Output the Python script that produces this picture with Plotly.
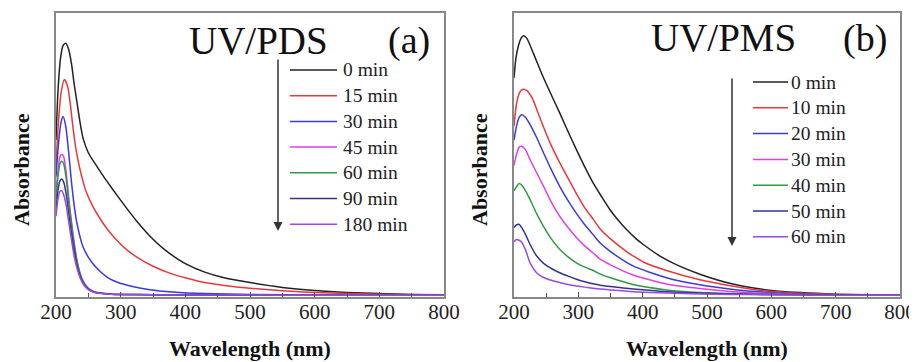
import plotly.graph_objects as go
from plotly.subplots import make_subplots

# ---------------- Panel (a): UV/PDS ----------------
wl_a0 = [200, 203, 207, 211, 215, 219, 224, 228, 232, 237, 242, 250, 260, 270, 280, 295, 310, 325, 345, 370, 400, 430, 460, 500, 550, 600, 650, 700, 750, 800]
abs_a0 = [0.55, 0.72, 0.84, 0.885, 0.893, 0.875, 0.82, 0.75, 0.69, 0.615, 0.555, 0.505, 0.468, 0.433, 0.40, 0.352, 0.306, 0.262, 0.21, 0.158, 0.112, 0.082, 0.062, 0.045, 0.028, 0.017, 0.010, 0.006, 0.003, 0.002]

wl_a15 = [200, 204, 208, 213, 218, 222, 226, 230, 237, 247, 257, 268, 280, 294, 310, 330, 350, 380, 400, 430, 460, 500, 550, 600, 700, 800]
abs_a15 = [0.46, 0.62, 0.72, 0.764, 0.74, 0.68, 0.60, 0.53, 0.447, 0.365, 0.315, 0.272, 0.232, 0.195, 0.16, 0.128, 0.103, 0.075, 0.062, 0.045, 0.035, 0.025, 0.016, 0.010, 0.004, 0.001]

wl_a30 = [200, 204, 208, 211, 215, 219, 224, 228, 232, 242, 255, 268, 280, 294, 320, 345, 380, 430, 500, 600, 800]
abs_a30 = [0.42, 0.54, 0.615, 0.633, 0.60, 0.52, 0.40, 0.32, 0.26, 0.17, 0.118, 0.085, 0.063, 0.047, 0.030, 0.020, 0.012, 0.006, 0.003, 0.001, 0.0]

wl_fast = [200, 203, 206, 209, 212, 216, 220, 224, 228, 232, 237, 242, 250, 258, 270, 285, 300, 350, 400, 500, 600, 800]
abs_a45 = [0.36, 0.44, 0.49, 0.50, 0.49, 0.43, 0.34, 0.26, 0.19, 0.13, 0.08, 0.05, 0.025, 0.014, 0.008, 0.005, 0.003, 0.002, 0.001, 0.001, 0.0, 0.0]
abs_a60 = [0.34, 0.42, 0.465, 0.476, 0.465, 0.41, 0.325, 0.25, 0.18, 0.125, 0.078, 0.048, 0.024, 0.013, 0.007, 0.004, 0.003, 0.002, 0.001, 0.001, 0.0, 0.0]
abs_a90 = [0.30, 0.37, 0.405, 0.412, 0.40, 0.355, 0.285, 0.22, 0.16, 0.11, 0.07, 0.044, 0.022, 0.012, 0.007, 0.004, 0.003, 0.002, 0.001, 0.001, 0.0, 0.0]
abs_a180 = [0.28, 0.34, 0.368, 0.37, 0.355, 0.315, 0.255, 0.195, 0.14, 0.10, 0.064, 0.04, 0.02, 0.011, 0.006, 0.004, 0.003, 0.002, 0.001, 0.001, 0.0, 0.0]

labels_a = ["0 min", "15 min", "30 min", "45 min", "60 min", "90 min", "180 min"]

# ---------------- Panel (b): UV/PMS ----------------
wl_b0 = [200, 203, 207, 211, 215, 220, 230, 245, 260, 271, 285, 297, 310, 323, 336, 349, 362, 375, 390, 401, 427, 453, 490, 540, 590, 645, 700, 750, 800]
abs_b0 = [0.77, 0.84, 0.885, 0.91, 0.919, 0.91, 0.858, 0.775, 0.70, 0.646, 0.575, 0.516, 0.455, 0.398, 0.35, 0.304, 0.266, 0.233, 0.20, 0.18, 0.139, 0.108, 0.074, 0.040, 0.020, 0.0095, 0.004, 0.002, 0.0]

wl_b10 = [200, 204, 209, 214, 220, 228, 236, 246, 258, 271, 284, 297, 310, 323, 334, 350, 375, 385, 401, 437, 489, 541, 592, 644, 700, 800]
abs_b10 = [0.60, 0.68, 0.72, 0.73, 0.725, 0.70, 0.655, 0.595, 0.53, 0.47, 0.415, 0.36, 0.31, 0.27, 0.235, 0.20, 0.155, 0.14, 0.118, 0.088, 0.055, 0.032, 0.015, 0.007, 0.003, 0.0]

wl_b = [200, 204, 208, 212, 218, 225, 235, 246, 258, 271, 284, 297, 310, 323, 334, 350, 385, 437, 489, 541, 592, 644, 700, 800]
abs_b20 = [0.55, 0.60, 0.63, 0.64, 0.63, 0.605, 0.56, 0.504, 0.445, 0.386, 0.335, 0.29, 0.25, 0.215, 0.185, 0.155, 0.104, 0.062, 0.037, 0.021, 0.011, 0.005, 0.002, 0.0]
abs_b30 = [0.46, 0.50, 0.525, 0.528, 0.515, 0.48, 0.435, 0.386, 0.33, 0.28, 0.24, 0.205, 0.175, 0.15, 0.128, 0.108, 0.072, 0.040, 0.024, 0.013, 0.007, 0.003, 0.001, 0.0]
abs_b40 = [0.37, 0.385, 0.396, 0.39, 0.37, 0.339, 0.29, 0.243, 0.20, 0.163, 0.136, 0.115, 0.10, 0.088, 0.075, 0.062, 0.038, 0.019, 0.010, 0.006, 0.003, 0.002, 0.001, 0.0]
abs_b50 = [0.24, 0.25, 0.251, 0.24, 0.215, 0.18, 0.14, 0.113, 0.095, 0.08, 0.068, 0.057, 0.048, 0.041, 0.036, 0.031, 0.022, 0.013, 0.008, 0.005, 0.003, 0.002, 0.001, 0.0]
abs_b60 = [0.19, 0.198, 0.195, 0.188, 0.16, 0.115, 0.08, 0.063, 0.053, 0.045, 0.038, 0.033, 0.029, 0.025, 0.022, 0.019, 0.013, 0.008, 0.005, 0.003, 0.002, 0.001, 0.0, 0.0]

labels_b = ["0 min", "10 min", "20 min", "30 min", "40 min", "50 min", "60 min"]

colors = ["#222222", "#e8383d", "#3a3ae0", "#e040e6", "#2f9a40", "#34348f", "#9a48ea"]

series_a = [(wl_a0, abs_a0), (wl_a15, abs_a15), (wl_a30, abs_a30), (wl_fast, abs_a45),
            (wl_fast, abs_a60), (wl_fast, abs_a90), (wl_fast, abs_a180)]
series_b = [(wl_b0, abs_b0), (wl_b10, abs_b10), (wl_b, abs_b20), (wl_b, abs_b30),
            (wl_b, abs_b40), (wl_b, abs_b50), (wl_b, abs_b60)]

FONT = "Liberation Serif"

# page body adds an 8px offset; the layout is sized so the plot lands where the reference has it
OFF = 8
L, T, R, B = 56 - OFF, 13 - OFF, 17, 65
W_FIG, H_FIG = 917 - OFF, 362 - OFF
PW = W_FIG - L - R        # plot-area width
PH = H_FIG - T - B        # plot-area height


def px(xs):
    """screen x of the reference -> paper x"""
    return (xs - OFF - L) / PW


def py(ys):
    """screen y of the reference -> paper y"""
    return (H_FIG - B - (ys - OFF)) / PH


fig = make_subplots(rows=1, cols=2, horizontal_spacing=0.083)

for i, (x, y) in enumerate(series_a):
    fig.add_trace(go.Scatter(x=x, y=y, mode="lines", name=labels_a[i], showlegend=False,
                             line=dict(color=colors[i], width=1.5, shape="spline", smoothing=0.6)),
                  row=1, col=1)
for i, (x, y) in enumerate(series_b):
    fig.add_trace(go.Scatter(x=x, y=y, mode="lines", name=labels_b[i], showlegend=False,
                             line=dict(color=colors[i], width=1.5, shape="spline", smoothing=0.6)),
                  row=1, col=2)

axis_common = dict(showline=True, linecolor="#888888", linewidth=1.5, mirror=True,
                   showgrid=False, zeroline=False, automargin=False)
xcommon = dict(axis_common, range=[200, 800], dtick=100, ticks="inside", ticklen=5,
               tickcolor="#555555", tickfont=dict(family=FONT, size=21, color="#222"),
               ticklabelstandoff=-5,
               minor=dict(dtick=50, ticks="inside", ticklen=4, tickcolor="#555555"))
ycommon = dict(axis_common, range=[-0.006, 1.0], showticklabels=False, ticks="")

fig.update_xaxes(**xcommon)
fig.update_yaxes(**ycommon)
fig.update_xaxes(domain=[0.0, px(444)], row=1, col=1)
fig.update_xaxes(domain=[px(514), 1.0], row=1, col=2)

annotations = []
shapes = []


def text(t, x, y, size, bold=False, angle=0, anchor="center"):
    annotations.append(dict(text=("<b>%s</b>" % t) if bold else t, x=x, y=y,
                            xref="paper", yref="paper", showarrow=False, textangle=angle,
                            xanchor=anchor, yanchor="middle",
                            font=dict(family=FONT, size=size, color="#111")))


# panel titles
text("UV/PDS", px(258), py(41), 39)
text("(a)", px(409), py(41), 38)
text("UV/PMS", px(723), py(37), 39)
text("(b)", px(865), py(38), 38)

# axis titles
text("Wavelength (nm)", px(250), py(348), 22, bold=True)
text("Wavelength (nm)", px(707), py(348), 22, bold=True)
text("Absorbance", px(21), py(170), 22, bold=True, angle=-90)
text("Absorbance", px(479), py(170), 22, bold=True, angle=-90)

# legends (key line + label per series)
def legend(labels, x0, x1, xt, y0, dy):
    for k, lab in enumerate(labels):
        yy = py(y0 + dy * k)
        shapes.append(dict(type="line", xref="paper", yref="paper", x0=px(x0), x1=px(x1),
                           y0=yy, y1=yy, line=dict(color=colors[k], width=1.5)))
        annotations.append(dict(text=lab, x=px(xt), y=yy, xref="paper", yref="paper",
                                showarrow=False, xanchor="left", yanchor="middle",
                                font=dict(family=FONT, size=19.5, color="#222")))


legend(labels_a, 290, 337, 341, 70, 25.7)
legend(labels_b, 753, 788, 789, 82, 25.8)

# time arrows
annotations.append(dict(text="", x=px(278), y=py(231), xref="paper", yref="paper", showarrow=True,
                        ax=0, ay=-173, arrowhead=2, arrowsize=1.2, arrowwidth=1.5, arrowcolor="#333"))
annotations.append(dict(text="", x=px(732), y=py(246), xref="paper", yref="paper", showarrow=True,
                        ax=0, ay=-169, arrowhead=2, arrowsize=1.2, arrowwidth=1.5, arrowcolor="#333"))

fig.update_layout(
    width=W_FIG, height=H_FIG,
    margin=dict(l=L, r=R, t=T, b=B),
    paper_bgcolor="white", plot_bgcolor="white",
    showlegend=False,
    annotations=annotations,
    shapes=shapes,
)

fig.write_html("out.html")
